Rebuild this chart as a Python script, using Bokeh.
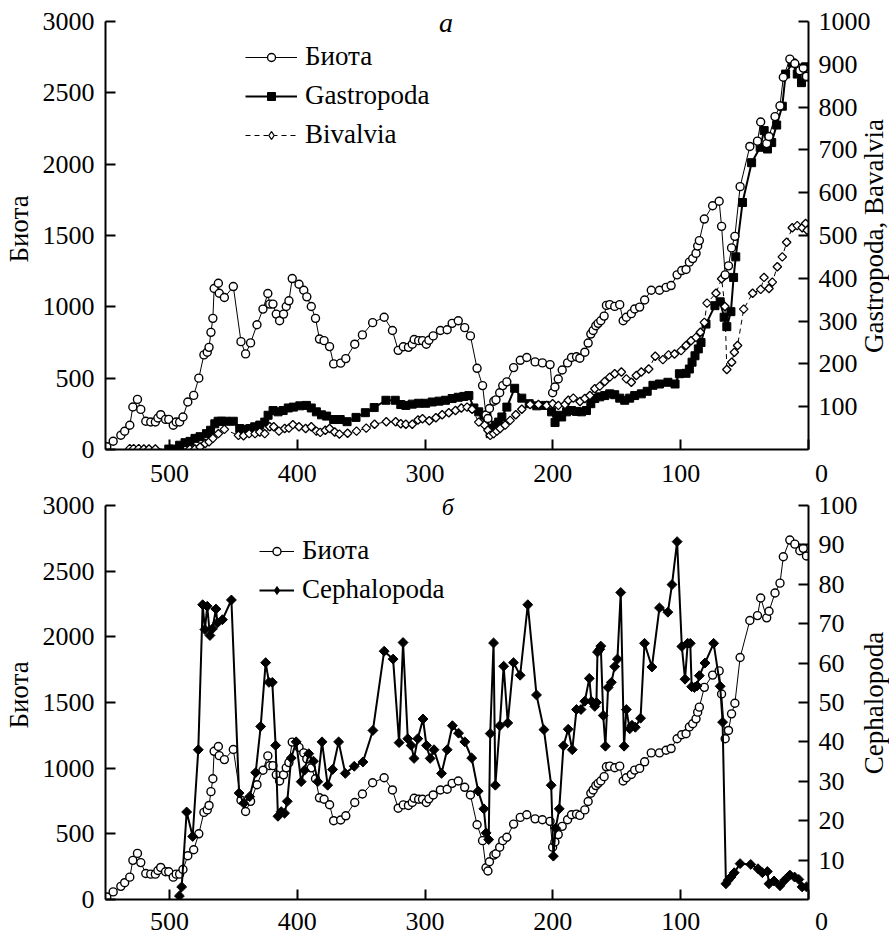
import numpy as np
from bokeh.plotting import figure
from bokeh.models import Range1d, LinearAxis, FixedTicker, Legend, LegendItem, Label, Div
from bokeh.layouts import column
from bokeh.embed import file_html
from bokeh.resources import INLINE

# ---------------- data (age, Ma; counts) ----------------
biota_age = [549, 544, 538, 535, 531, 528.6, 525, 522.4, 518.5, 514.6, 511, 509, 506.8, 503, 500.5, 497, 494.7, 492,
             489.4, 485.6, 481, 477, 473, 470.4, 469, 467.5, 466, 465, 461.7, 461, 457, 450, 444, 440.4, 436.5, 431.5,
             426.8, 423, 421.5, 419, 416.4, 413.8, 410.7, 408.6, 406.5, 403.9, 398.6, 394.9, 392.5, 389, 385.7, 382.6,
             379, 374.7, 371.5, 366, 362, 355, 349, 341, 332, 325.5, 321, 317, 313, 310, 308.5, 305, 302, 299, 297,
             293.6, 288, 282.7, 278.8, 274, 269, 264.5, 259.3, 255, 252.3, 250.8, 249.6, 246.2, 244.5, 241.6, 239.2,
             236, 230.7, 225.5, 220.4, 213.9, 208.2, 202.2, 200.2, 198.4, 195.8, 192.7, 188.5, 185.4, 181.5, 178.9,
             175, 172.4, 170.3, 168.5, 166.4, 164.6, 162.5, 159.9, 158.1, 155.5, 151.6, 147.7, 145, 142.5, 138.6, 136,
             132.1, 128.2, 123, 116.6, 111.4, 107.5, 102.8, 99.2, 95.8, 93.2, 90.6, 88, 86.7, 85.4, 81.5, 75, 69.9, 68,
             65.2, 62.6, 60.2, 57.6, 53.5, 45.9, 39.9, 37.4, 32.7, 30.9, 26.2, 22.3, 19.7, 14.6, 10.7, 6.8, 4.1, 1.6]
biota = [19, 58, 100, 128, 170, 298, 351, 281, 198, 193, 193, 221, 244, 211, 211, 170, 193, 193, 228, 333, 379, 500,
         663, 682, 716, 821, 919, 1128, 1165, 1095, 1065, 1142, 756, 670, 747, 874, 984, 1093, 1019, 1019, 949, 902,
         949, 1002, 1042, 1198, 1158, 1116, 1070, 1002, 919, 774, 763, 721, 600, 605, 637, 738, 803, 889, 927, 834,
         695, 720, 716, 738, 771, 763, 763, 738, 766, 796, 834, 839, 884, 902, 854, 796, 569, 448, 242, 217, 287, 338,
         348, 398, 448, 474, 574, 625, 645, 614, 607, 595, 398, 438, 494, 557, 607, 645, 650, 640, 682, 746, 809, 834,
         867, 884, 902, 935, 1010, 1015, 1003, 1015, 902, 927, 952, 985, 998, 1048, 1116, 1116, 1136, 1149, 1224,
         1254, 1262, 1313, 1338, 1375, 1426, 1464, 1615, 1708, 1740, 1564, 1224, 1287, 1413, 1494, 1842, 2124, 2161,
         2295, 2144, 2194, 2333, 2408, 2609, 2736, 2705, 2655, 2673, 2615]

gastro_age = [500.5, 496.5, 492, 487.8, 483.9, 480, 476, 471, 467.8, 464.5, 461.9, 459.3, 455.9, 450, 445, 441, 437,
              433.3, 429.3, 425.4, 422.8, 418.9, 415, 411, 407, 403, 398, 392.8, 389, 385, 381, 377, 371.5, 366.4,
              361, 354, 346.7, 339.8, 330.6, 323.3, 319, 315, 310, 305, 299.5, 294.4, 289, 284, 278.8, 274, 269.6,
              265.7, 261.8, 258, 254, 251.6, 249, 246.9, 245, 242.4, 239.9, 236, 229.9, 224.3, 218.5, 212.6, 206,
              201, 198.3, 195.7, 193.1, 189.3, 185.4, 181.5, 177.6, 173.7, 170.3, 167.2, 163.3, 159.4, 155.5, 151.6,
              147.7, 143.8, 139.9, 136, 130.8, 126.2, 121.7, 116.6, 110, 104.4, 101, 95.8, 93.2, 91.1, 88.8, 86.2,
              84.1, 80.2, 73.2, 69.1, 66, 63.9, 60.7, 58.6, 56.9, 51.6, 44.5, 37.8, 34.7, 32.1, 28.8, 24.9, 20.5,
              17.9, 12.7, 8.8, 5.5, 2.3, 1]
gastro = [1, 1, 10, 16, 19, 26, 30, 37, 45, 60, 66, 66, 66, 66, 49, 47, 49, 53, 57, 64, 80, 91, 88, 91, 97, 99, 102,
          103, 97, 88, 81, 78, 70, 70, 65, 75, 86, 98, 115, 115, 105, 103, 106, 108, 108, 111, 113, 115, 119, 122,
          124, 126, 97, 88, 80, 76, 37, 50, 57, 64, 76, 99, 143, 120, 107, 102, 103, 88, 63, 80, 76, 88, 91, 89, 88,
          91, 107, 119, 123, 126, 130, 128, 120, 115, 120, 126, 130, 136, 150, 153, 157, 153, 177, 178, 188, 204,
          219, 235, 250, 293, 336, 345, 309, 287, 322, 402, 450, 577, 670, 706, 745, 702, 717, 758, 802, 877, 903,
          877, 857, 894, 870]

bival_age = [531, 528, 524, 520, 516, 511, 484, 480, 476, 472, 469, 466, 461.7, 457, 446, 442, 437.6, 433, 429.3,
             425.4, 421.5, 418.4, 414.3, 409.8, 406.5, 403.4, 398.6, 393.4, 389, 385, 382, 378, 374.7, 370.7, 367,
             360.6, 353.6, 346, 339.5, 330.3, 323, 319, 315, 310, 305.5, 302, 296.7, 291.5, 286.6, 281.4, 276.2,
             271.6, 267.1, 263.2, 258, 253.4, 250.8, 249, 246.3, 243.8, 241.2, 237.3, 233.4, 229, 224.3, 217.8,
             211.3, 204.8, 200.2, 195.7, 190.5, 187.9, 184, 178.8, 175, 171, 167.2, 163.3, 159.4, 155.5, 151.6,
             146.4, 142.5, 138.6, 134.7, 130.8, 125, 119.9, 113.9, 109.5, 104.8, 99.7, 95.8, 91.9, 88, 84.6, 81.5,
             79.4, 72.4, 68, 65.4, 63.9, 60.1, 58, 55.5, 50.7, 43.7, 37.4, 34.8, 30.9, 28.3, 24.4, 20.5, 17.1, 12.7,
             8.8, 4.9, 2.3, 1]
bival = [2, 2, 2, 1, 1, 1, 1, 1, 6, 14, 18, 26, 37, 47, 33, 32, 37, 37, 41, 37, 53, 53, 43, 49, 50, 58, 53, 49, 53,
         43, 40, 45, 49, 41, 36, 38, 43, 50, 59, 65, 65, 60, 59, 59, 69, 72, 67, 74, 81, 86, 91, 97, 99, 94, 64, 57,
         45, 33, 37, 43, 49, 57, 68, 81, 94, 105, 105, 103, 107, 103, 105, 115, 120, 112, 119, 126, 142, 148, 159,
         169, 177, 181, 165, 157, 173, 181, 188, 218, 210, 221, 223, 231, 243, 254, 262, 274, 297, 342, 365, 399,
         334, 187, 204, 227, 243, 328, 365, 374, 402, 376, 391, 427, 450, 484, 518, 523, 518, 528, 512]

cephal_age = [492.2, 490.4, 486.5, 481.8, 477.4, 474, 472.2, 470.4, 468.3, 466.3, 463.6, 462.4, 458.5, 451.5, 445.5,
              441.8, 437.2, 432.5, 428.6, 424.7, 422.1, 419.5, 416.9, 415.1, 412.5, 409.9, 407.8, 404.7, 400.8,
              396.9, 394.3, 391, 387.3, 383.9, 380.6, 376.2, 372.3, 367.6, 362.4, 355.4, 348.6, 340.8, 332, 325,
              320.3, 317.2, 313.5, 310.9, 308.6, 305.7, 301.6, 298.9, 296, 293, 287.1, 282.7, 278.6, 273.8, 268.9,
              263.5, 258.4, 254, 252.2, 250.2, 249, 246.4, 245, 241.5, 238.5, 235.3, 230.8, 225.6, 219.6, 212.8, 207,
              201.3, 199.6, 197.8, 195, 191.7, 188, 184.8, 181.5, 178, 175, 171.5, 169.8, 167.2, 165.9, 165.1, 163.3,
              162.5, 160.6, 158.9, 156.8, 154.2, 151.6, 149.5, 146.9, 144.3, 142.5, 139.9, 138.1, 135.5, 131.4,
              128.3, 122.5, 116.6, 110, 106.8, 102.8, 99.1, 96.6, 94.5, 92.5, 91.4, 89.3, 87.2, 85.4, 81, 74.2, 69.1,
              67.2, 64.6, 62.8, 60.7, 58.1, 53.5, 45.2, 39.5, 36.1, 32.2, 30.9, 27, 22.3, 18.7, 14.6, 10.9, 7.6, 5,
              1.6]
cephal = [0.9, 3.2, 22.2, 16, 38, 74.8, 68.5, 74.4, 67, 68.7, 73.7, 70.2, 71, 76, 27, 24.4, 26.1, 32.2, 43.9, 60.1,
          55.1, 55.1, 39.1, 21.1, 22.3, 21.9, 24.9, 35.9, 40, 29.9, 32.8, 37, 35.1, 29.9, 40, 29, 33, 40, 32, 33.8,
          34.9, 42.9, 63, 61, 39.8, 65.2, 40.8, 39.1, 35.8, 40.8, 45.8, 39.1, 35.8, 38, 32, 38, 44.1, 42.2, 40, 35.9,
          27.5, 23, 16.9, 15.2, 42.1, 65.1, 29, 44.1, 59.2, 44.8, 60.1, 56.9, 74.8, 51.9, 43.1, 29, 11, 18.1, 23, 39,
          43.2, 38, 48.2, 48.2, 50.3, 56.1, 50.3, 49, 50, 62.8, 63.5, 64.3, 46.7, 38.9, 53.8, 55.1, 59.1, 61, 77.9,
          38.9, 48.2, 43.3, 44.2, 43.7, 46, 65, 59, 74, 72.9, 79.9, 90.8, 64.2, 55.9, 65, 65, 54, 53.8, 54.2, 56.8,
          60, 65, 54.1, 45, 4, 4.9, 5.7, 6.8, 9.1, 8.9, 7.8, 6.8, 7.1, 4, 4.7, 3.5, 4.9, 6.2, 5.7, 5.1, 3.2, 3.2]

x_ticks = [500, 400, 300, 200, 100, 0]
x_tick_text = {0: "\u2007\u20070"}
left_ticks = [0, 500, 1000, 1500, 2000, 2500, 3000]
left_max = 3000
top_right_ticks = [100, 200, 300, 400, 500, 600, 700, 800, 900, 1000]
top_right_max = 1000
bottom_right_ticks = [10, 20, 30, 40, 50, 60, 70, 80, 90, 100]
bottom_right_max = 100

FONT = "Liberation Serif"


def style_axis(ax, ticks, standoff):
    ax.ticker = FixedTicker(ticks=ticks)
    ax.axis_line_width = 2
    ax.axis_line_color = "black"
    ax.major_tick_line_width = 2
    ax.major_tick_line_color = "black"
    ax.major_tick_in = 10
    ax.major_tick_out = 0
    ax.minor_tick_line_color = None
    ax.major_label_text_font = FONT
    ax.major_label_text_font_size = "26px"
    ax.major_label_text_color = "black"
    ax.major_label_standoff = standoff
    ax.axis_label_text_font = FONT
    ax.axis_label_text_font_size = "27px"
    ax.axis_label_text_font_style = "normal"
    ax.axis_label_text_color = "black"
    ax.axis_label_standoff = 6


def make_panel(height, top, bottom, extra_frac, right_max, right_ticks, x_standoff):
    # the frame is a little taller than the 0..max span so the panel letter fits inside it
    p = figure(width=889, height=height, x_range=Range1d(550, 0),
               y_range=Range1d(0, left_max * extra_frac),
               output_backend="svg", toolbar_location=None,
               min_border_left=103, min_border_right=81, min_border_top=top, min_border_bottom=bottom)
    p.extra_y_ranges = {"r": Range1d(0, right_max * extra_frac)}
    p.grid.visible = False
    p.outline_line_color = None
    style_axis(p.xaxis[0], x_ticks, x_standoff)
    p.xaxis[0].major_label_overrides = x_tick_text
    style_axis(p.yaxis[0], left_ticks, 11)
    p.yaxis[0].bounds = (0, left_max)
    p.yaxis[0].axis_label = "Биота"
    ra = LinearAxis(y_range_name="r")
    style_axis(ra, right_ticks, 10)
    ra.bounds = (0, right_max)
    p.add_layout(ra, "right")
    return p


def side_title(text, cx, cy, length):
    # right-hand axis title, reading bottom-to-top (page coordinates of its centre)
    return Div(text=text, width=length, height=28, margin=0,
               styles={"position": "absolute", "left": f"{cx - length / 2}px", "top": f"{cy - 14}px",
                       "transform": "rotate(-90deg)", "transform-origin": "50% 50%",
                       "font-family": "'Liberation Serif', serif", "font-size": "27px",
                       "line-height": "28px", "text-align": "center", "white-space": "nowrap",
                       "color": "black", "overflow": "visible", "z-index": "5"})


def biota_glyphs(p):
    lb = p.line(biota_age, biota, line_color="black", line_width=1)
    sb = p.scatter(biota_age, biota, marker="circle", size=8, fill_color="white",
                   line_color="black", line_width=1.4)
    return lb, sb


def panel_letter(p, letter, x, y, size):
    p.add_layout(Label(x=x, y=y, text=letter, text_align="left", text_baseline="alphabetic",
                       text_font=FONT, text_font_size=size, text_font_style="italic",
                       text_color="black"))


def style_legend(leg, glyph_w):
    leg.label_text_font = FONT
    leg.label_text_font_size = "27px"
    leg.label_text_color = "black"
    leg.glyph_width = glyph_w
    leg.glyph_height = 20
    leg.label_height = 20
    leg.label_standoff = 8
    leg.spacing = 8
    leg.padding = 0
    leg.margin = 0
    leg.border_line_color = None
    leg.background_fill_alpha = 0
    leg.inactive_fill_alpha = 0


# ---------------- panel a ----------------
# frame: 443 px tall, of which the 0..max span uses 430 px
p1 = make_panel(490, 8, 39, 443 / 430, top_right_max, top_right_ticks, 9)
lg = p1.line(gastro_age, gastro, y_range_name="r", line_color="black", line_width=2)
sg = p1.scatter(gastro_age, gastro, y_range_name="r", marker="square", size=8,
                fill_color="black", line_color="black")
lv = p1.line(bival_age, bival, y_range_name="r", line_color="black", line_width=1, line_dash="5 4")
sv = p1.scatter(bival_age, bival, y_range_name="r", marker="square", angle=np.pi / 4, size=6,
                fill_color="white", line_color="black", line_width=1.3)
# legend-only proxy (hidden in the plot) so the legend shows a diamond
dv = p1.scatter(bival_age, bival, y_range_name="r", marker="diamond", fill_color="white",
                line_color="black", line_width=1.3, visible=False)
lb1, sb1 = biota_glyphs(p1)
leg1 = Legend(items=[LegendItem(label="Биота", renderers=[lb1, sb1]),
                     LegendItem(label="Gastropoda", renderers=[lg, sg]),
                     LegendItem(label="Bivalvia", renderers=[lv, dv])],
              location=(140, 299))
style_legend(leg1, 52)
p1.add_layout(leg1)
panel_letter(p1, "а", 289, 2990, "28px")

# ---------------- panel б ----------------
# frame: 412 px tall, of which the 0..max span uses 397 px
p2 = make_panel(448, 0, 36, 412 / 397, bottom_right_max, bottom_right_ticks, 7)
lb2, sb2 = biota_glyphs(p2)
lc = p2.line(cephal_age, cephal, y_range_name="r", line_color="black", line_width=2)
sc = p2.scatter(cephal_age, cephal, y_range_name="r", marker="square", angle=np.pi / 4, size=7,
                fill_color="black", line_color="black")
dc = p2.scatter(cephal_age, cephal, y_range_name="r", marker="diamond", fill_color="black",
                line_color="black", visible=False)
leg2 = Legend(items=[LegendItem(label="Биота", renderers=[lb2, sb2]),
                     LegendItem(label="Cephalopoda", renderers=[lc, dc])],
              location=(154, 294))
style_legend(leg2, 35)
p2.add_layout(leg2)
panel_letter(p2, "б", 287, 2990, "24px")

t1 = side_title("Gastropoda, Bavalvia", 874, 236, 250)
t2 = side_title("Cephalopoda", 874, 703, 170)

layout = column(p1, p2, t1, t2)
open("out.html", "w").write(file_html(layout, INLINE))
